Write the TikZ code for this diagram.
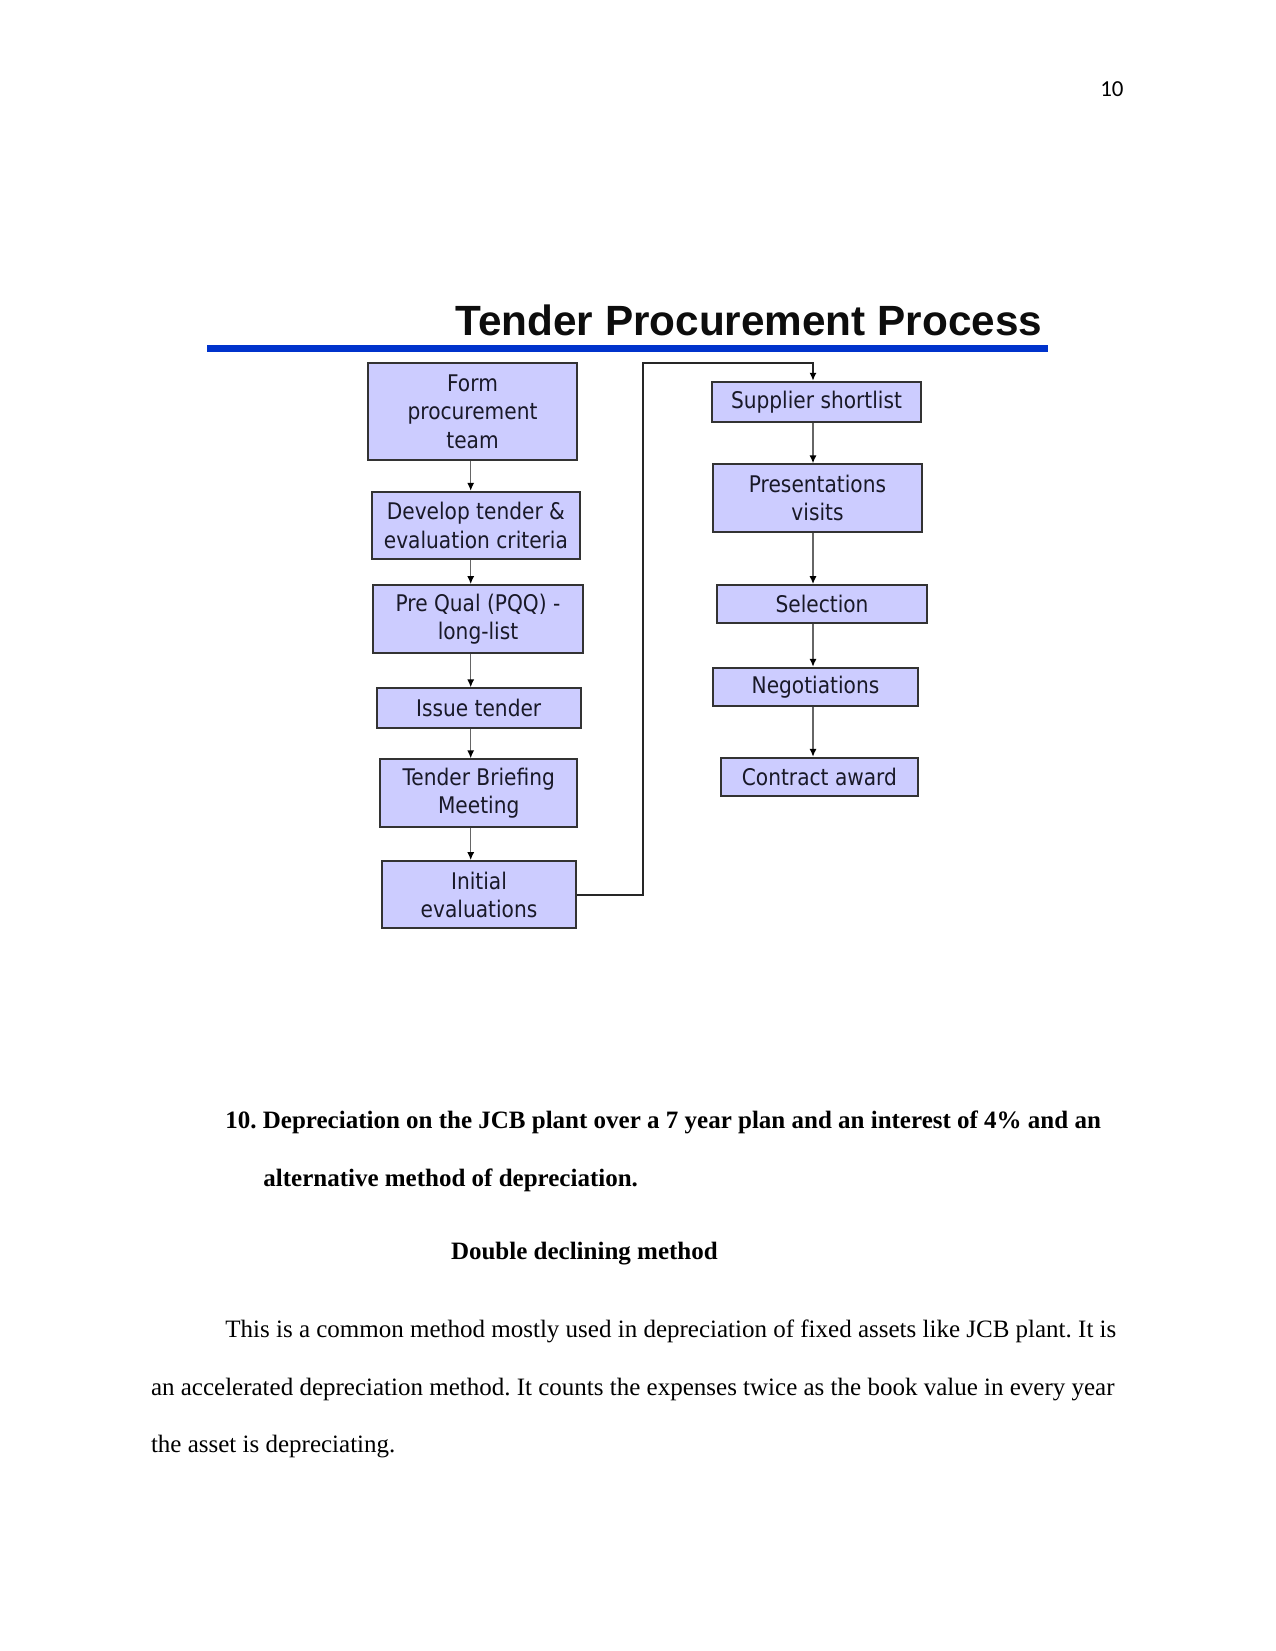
\documentclass[tikz,border=0pt]{standalone}
\usepackage{fontspec}
\setmainfont{Liberation Serif}
\newfontfamily\boxfont[FakeStretch=0.88]{DejaVu Sans}
\newfontfamily\headfont{Liberation Sans}
\newfontfamily\numfont{Carlito}
\usepackage{tikz}
\usetikzlibrary{arrows.meta}
\usetikzlibrary{positioning, calc}
\definecolor{boxfill}{RGB}{204,204,255}
\definecolor{barblue}{RGB}{0,51,204}
\definecolor{boxtext}{RGB}{25,25,40}
\frenchspacing

\begin{document}
\begin{tikzpicture}[x=0.48pt, y=-0.48pt,
  stepbox/.style={rectangle, draw=black!80, fill=boxfill, line width=0.9pt, inner sep=1pt, align=center, text=boxtext, font=\boxfont\fontsize{11}{13.6}\selectfont},
  flow/.style={draw=black!60, line width=0.7pt, -{Latex[length=3.8pt, width=3.4pt, color=black]}},
  body/.style={anchor=base west, inner sep=0pt, font=\fontsize{12}{14}\selectfont},
  bodybold/.style={anchor=base west, inner sep=0pt, font=\bfseries\fontsize{12}{14}\selectfont}]
  \useasboundingbox (0,0) rectangle (1275,1651);

  % Page number
  \node[anchor=base east, inner sep=0pt, font=\numfont\fontsize{11}{13}\selectfont] (pageno) at (1124,97) {10};

  % Title with blue rule
  \node[anchor=base west, inner sep=0pt, text=black!95, font=\headfont\bfseries\fontsize{20.3}{24}\selectfont] (title) at (455,335) {Tender Procurement Process};
  \coordinate (barL) at (207,348.5);
  \coordinate (barR) at (1048,348.5);
  \draw[barblue, line width=3.4pt] (barL) -- (barR);

  % Left column
  \node[stepbox, minimum width=100pt, minimum height=46.4pt] (form) at (472.5,411.7) {Form\\procurement\\team};
  \node[stepbox, minimum width=100pt, minimum height=32.4pt] (develop) at (475.9,525.5) {Develop tender \&\\evaluation criteria};
  \node[stepbox, minimum width=101.1pt, minimum height=32.5pt] (prequal) at (478,618.9) {Pre Qual (PQQ) -\\long-list};
  \node[stepbox, minimum width=97.9pt, minimum height=19.2pt] (issue) at (478.7,708.3) {Issue tender};
  \node[stepbox, minimum width=94.7pt, minimum height=32.4pt] (briefing) at (478.7,793) {Tender Briefing\\Meeting};
  \node[stepbox, minimum width=92.8pt, minimum height=32.3pt] (initial) at (479,894.7) {Initial\\evaluations};

  % Right column
  \node[stepbox, minimum width=100pt, minimum height=19.2pt] (supplier) at (816.5,401.7) {Supplier shortlist};
  \node[stepbox, minimum width=100pt, minimum height=32.4pt] (present) at (817.5,498) {Presentations\\visits};
  \node[stepbox, minimum width=101.1pt, minimum height=18.4pt] (selection) at (822,604.2) {Selection};
  \node[stepbox, minimum width=98.1pt, minimum height=18.4pt] (negotiate) at (815.5,686.9) {Negotiations};
  \node[stepbox, minimum width=94.4pt, minimum height=18.4pt] (contract) at (819.4,776.9) {Contract award};

  % Arrows
  \coordinate (lcol) at (470.7,0);
  \coordinate (rcol) at (813,0);
  \draw[flow] (form.south -| lcol) -- (develop.north -| lcol);
  \draw[flow] (develop.south -| lcol) -- (prequal.north -| lcol);
  \draw[flow] (prequal.south -| lcol) -- (issue.north -| lcol);
  \draw[flow] (issue.south -| lcol) -- (briefing.north -| lcol);
  \draw[flow] (briefing.south -| lcol) -- (initial.north -| lcol);
  \draw[flow] (supplier.south -| rcol) -- (present.north -| rcol);
  \draw[flow] (present.south -| rcol) -- (selection.north -| rcol);
  \draw[flow] (selection.south -| rcol) -- (negotiate.north -| rcol);
  \draw[flow] (negotiate.south -| rcol) -- (contract.north -| rcol);

  % Link from the left column to the right one
  \coordinate (loop) at (643.3,362.7);
  \draw[flow, draw=black!85, line width=0.8pt] (initial.east) -| (loop) -| (supplier.north -| rcol);

  % Text below the chart
  \node[bodybold] (q10a) at (225,1128) {10. Depreciation on the JCB plant over a 7 year plan and an interest of 4\% and an};
  \node[bodybold] (q10b) at (263,1186) {alternative method of depreciation.};
  \node[bodybold] (ddm) at (450.6,1259) {Double declining method};
  \node[body] (para1) at (225,1337) {This is a common method mostly used in depreciation of fixed assets like JCB plant. It is};
  \node[body] (para2) at (150.6,1395) {an accelerated depreciation method. It counts the expenses twice as the book value in every year};
  \node[body] (para3) at (150.6,1452) {the asset is depreciating.};
\end{tikzpicture}
\end{document}
